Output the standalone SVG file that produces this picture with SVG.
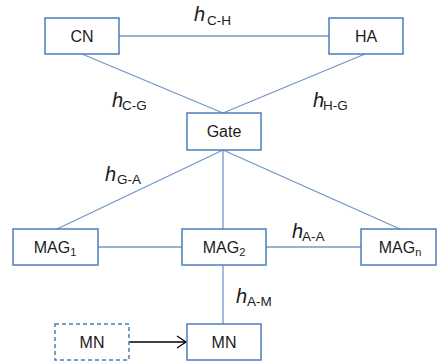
<svg xmlns="http://www.w3.org/2000/svg" width="438" height="364" viewBox="0 0 438 364">
  <style>
    .box { fill: #ffffff; stroke: #4a7ebb; stroke-width: 1.5; }
    .dash { stroke-dasharray: 4 3; }
    .link { stroke: #7396c8; stroke-width: 1.3; fill: none; }
    .lbl { font-family: "Liberation Sans", Arial, sans-serif; font-size: 16px; fill: #1c1c1c; text-anchor: middle; }
    .hop { font-family: "Liberation Sans", Arial, sans-serif; font-style: italic; font-size: 20px; fill: #1c1c1c; }
    .hsub { font-family: "Liberation Sans", Arial, sans-serif; font-style: normal; font-size: 13.5px; }
  </style>
  <defs>
    <marker id="chevron" markerWidth="12" markerHeight="14" refX="10" refY="7" orient="auto" markerUnits="userSpaceOnUse">
      <path d="M1,1 L10,7 L1,13" fill="none" stroke="#000" stroke-width="1.3"/>
    </marker>
  </defs>

  <!-- links -->
  <g id="connectors">
    <line class="link" x1="119" y1="36" x2="329" y2="36"/>
    <line class="link" x1="82" y1="54" x2="223" y2="113"/>
    <line class="link" x1="365" y1="54" x2="223" y2="113"/>
    <line class="link" x1="223" y1="150" x2="57" y2="229"/>
    <line class="link" x1="223" y1="150" x2="223" y2="229"/>
    <line class="link" x1="223" y1="150" x2="400" y2="229"/>
    <line class="link" x1="98" y1="247" x2="182" y2="247"/>
    <line class="link" x1="266" y1="247" x2="361" y2="247"/>
    <line class="link" x1="223" y1="265" x2="223" y2="324"/>
    <line x1="129" y1="342" x2="186" y2="342" stroke="#000" stroke-width="1.3" marker-end="url(#chevron)"/>
  </g>

  <!-- hop-count labels -->
  <g id="hop-labels">
    <text class="hop" x="194" y="21">h<tspan class="hsub" x="207" y="25">C-H</tspan></text>
    <text class="hop" x="112" y="107">h<tspan class="hsub" x="122" y="110">C-G</tspan></text>
    <text class="hop" x="313" y="107">h<tspan class="hsub" x="323" y="110">H-G</tspan></text>
    <text class="hop" x="105" y="181">h<tspan class="hsub" x="117" y="184">G-A</tspan></text>
    <text class="hop" x="292" y="238">h<tspan class="hsub" x="302" y="241">A-A</tspan></text>
    <text class="hop" x="236" y="303">h<tspan class="hsub" x="247" y="306">A-M</tspan></text>
  </g>

  <g id="CN">
    <rect class="box" x="45" y="18" width="74" height="36"/>
    <text class="lbl" x="82" y="42">CN</text>
  </g>
  <g id="HA">
    <rect class="box" x="329" y="18" width="74" height="36"/>
    <text class="lbl" x="366" y="42">HA</text>
  </g>
  <g id="Gate">
    <rect class="box" x="187" y="113" width="74" height="37"/>
    <text class="lbl" x="224" y="137">Gate</text>
  </g>
  <g id="MAG1">
    <rect class="box" x="13" y="229" width="85" height="36"/>
    <text class="lbl" x="55" y="253">MAG<tspan font-size="11" dy="3">1</tspan></text>
  </g>
  <g id="MAG2">
    <rect class="box" x="182" y="229" width="84" height="36"/>
    <text class="lbl" x="224" y="253">MAG<tspan font-size="11" dy="3">2</tspan></text>
  </g>
  <g id="MAGn">
    <rect class="box" x="361" y="229" width="75" height="36"/>
    <text class="lbl" x="400" y="253">MAG<tspan font-size="11" dy="3">n</tspan></text>
  </g>
  <g id="MN-old">
    <rect class="box dash" x="55" y="324" width="74" height="36"/>
    <text class="lbl" x="92" y="348">MN</text>
  </g>
  <g id="MN">
    <rect class="box" x="187" y="324" width="74" height="36"/>
    <text class="lbl" x="224" y="348">MN</text>
  </g>
</svg>
